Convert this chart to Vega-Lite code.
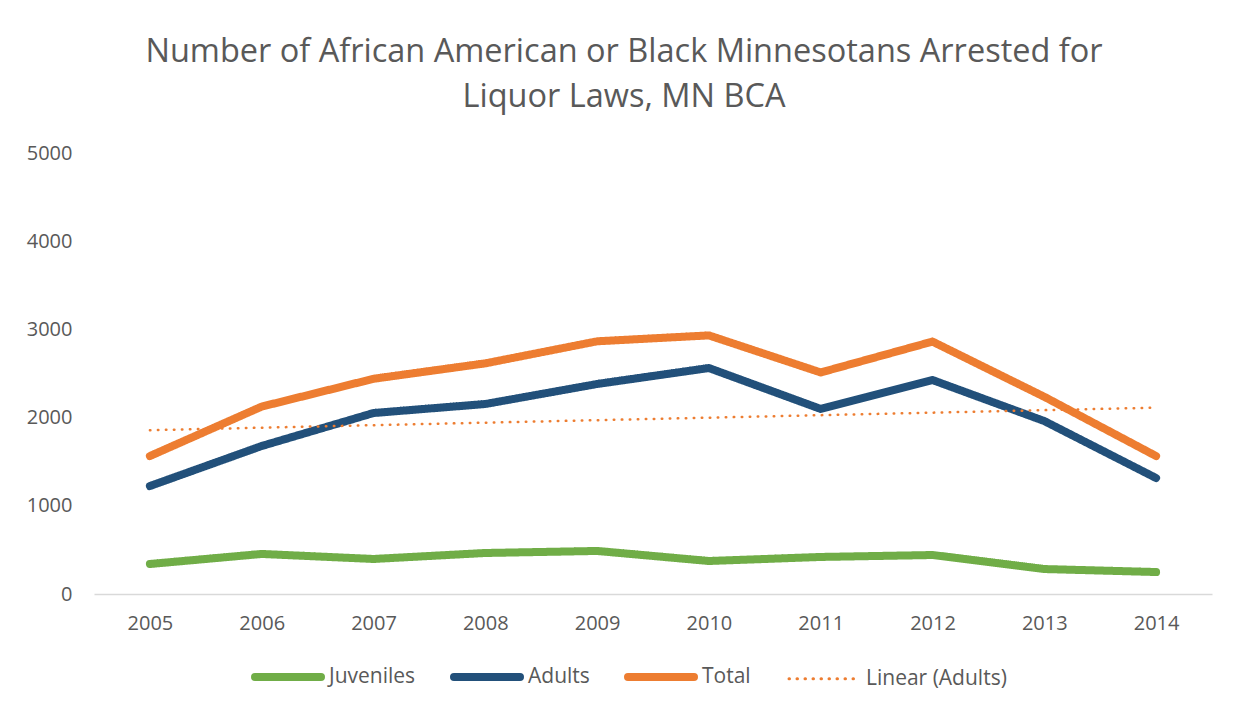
{
  "$schema": "https://vega.github.io/schema/vega-lite/v6.json",
  "autosize": {"type": "none"},
  "width": 1118,
  "height": 441,
  "padding": {"left": 94, "top": 153, "right": 27, "bottom": 114},
  "background": "white",
  "title": {
    "text": ["Number of African American or Black Minnesotans Arrested for", "Liquor Laws, MN BCA"],
    "font": "Open Sans",
    "fontSize": 32.5,
    "fontWeight": "normal",
    "color": "#595959",
    "lineHeight": 45,
    "offset": 30,
    "dx": -29
  },
  "config": {
    "view": {"stroke": null},
    "axis": {"labelFont": "Open Sans", "labelFontSize": 20, "labelColor": "#595959", "grid": false, "ticks": false, "title": null},
    "legend": {"labelFont": "Open Sans", "labelFontSize": 21, "labelColor": "#595959"}
  },
  "data": {
    "values": [
      {"year": 2005, "series": "Juveniles", "value": 340},
      {"year": 2006, "series": "Juveniles", "value": 454},
      {"year": 2007, "series": "Juveniles", "value": 397},
      {"year": 2008, "series": "Juveniles", "value": 465},
      {"year": 2009, "series": "Juveniles", "value": 488},
      {"year": 2010, "series": "Juveniles", "value": 374},
      {"year": 2011, "series": "Juveniles", "value": 420},
      {"year": 2012, "series": "Juveniles", "value": 442},
      {"year": 2013, "series": "Juveniles", "value": 283},
      {"year": 2014, "series": "Juveniles", "value": 249},
      {"year": 2005, "series": "Adults", "value": 1224},
      {"year": 2006, "series": "Adults", "value": 1678},
      {"year": 2007, "series": "Adults", "value": 2052},
      {"year": 2008, "series": "Adults", "value": 2154},
      {"year": 2009, "series": "Adults", "value": 2381},
      {"year": 2010, "series": "Adults", "value": 2562},
      {"year": 2011, "series": "Adults", "value": 2098},
      {"year": 2012, "series": "Adults", "value": 2426},
      {"year": 2013, "series": "Adults", "value": 1961},
      {"year": 2014, "series": "Adults", "value": 1315},
      {"year": 2005, "series": "Total", "value": 1564},
      {"year": 2006, "series": "Total", "value": 2125},
      {"year": 2007, "series": "Total", "value": 2440},
      {"year": 2008, "series": "Total", "value": 2615},
      {"year": 2009, "series": "Total", "value": 2865},
      {"year": 2010, "series": "Total", "value": 2932},
      {"year": 2011, "series": "Total", "value": 2512},
      {"year": 2012, "series": "Total", "value": 2862},
      {"year": 2013, "series": "Total", "value": 2236},
      {"year": 2014, "series": "Total", "value": 1564}
    ]
  },
  "encoding": {
    "x": {
      "field": "year",
      "type": "ordinal",
      "scale": {"type": "point", "padding": 0.5},
      "axis": {"labelAngle": 0, "labelPadding": 19, "domainColor": "#D9D9D9", "domainWidth": 1.5}
    },
    "y": {
      "field": "value",
      "type": "quantitative",
      "scale": {"domain": [0, 5000]},
      "axis": {"values": [0, 1000, 2000, 3000, 4000, 5000], "format": "d", "domain": false, "labelPadding": 22}
    }
  },
  "layer": [
    {
      "mark": {"type": "line", "strokeCap": "round", "strokeJoin": "round"},
      "encoding": {
        "color": {
          "field": "series",
          "type": "nominal",
          "scale": {"domain": ["Juveniles", "Adults", "Total", "Linear (Adults)"], "range": ["#70AD47", "#22507A", "#ED7D31", "#ED7D31"]},
          "legend": {
            "orient": "none", "direction": "horizontal", "legendX": 157, "legendY": 487, "title": null,
            "symbolType": "stroke", "symbolSize": 4356, "columnPadding": 22, "labelOffset": 4,
            "encode": {
              "symbols": {"update": {
                "x": {"signal": "(datum.value === 'Linear (Adults)' ? 49 : 37)"},
                "y": {"signal": "(datum.value === 'Linear (Adults)' ? 34.5 : 37)"},
                "strokeCap": {"value": "round"},
                "strokeWidth": {"signal": "(datum.value === 'Linear (Adults)' ? 3 : 8)"},
                "strokeDash": {"signal": "(datum.value === 'Linear (Adults)' ? [0.5, 7.5] : [])"}
              }},
              "labels": {"update": {
                "x": {"signal": "(datum.value === 'Linear (Adults)' ? 93 : 78)"},
                "y": {"signal": "(datum.value === 'Linear (Adults)' ? 34.5 : 37)"}
              }}
            }
          }
        },
        "strokeDash": {
          "field": "series",
          "type": "nominal",
          "scale": {"domain": ["Juveniles", "Adults", "Total", "Linear (Adults)"], "range": [[1, 0], [1, 0], [1, 0], [0.5, 7.5]]},
          "legend": null
        },
        "strokeWidth": {
          "field": "series",
          "type": "nominal",
          "scale": {"type": "ordinal", "domain": ["Juveniles", "Adults", "Total", "Linear (Adults)"], "range": [8, 8, 8, 3]},
          "legend": null
        }
      }
    },
    {
      "transform": [
        {"filter": "datum.series === 'Adults'"},
        {"regression": "value", "on": "year"}
      ],
      "mark": {"type": "line", "strokeCap": "round"},
      "encoding": {
        "color": {"datum": "Linear (Adults)"},
        "strokeDash": {"datum": "Linear (Adults)", "legend": null},
        "strokeWidth": {"datum": "Linear (Adults)", "legend": null}
      }
    }
  ]
}
